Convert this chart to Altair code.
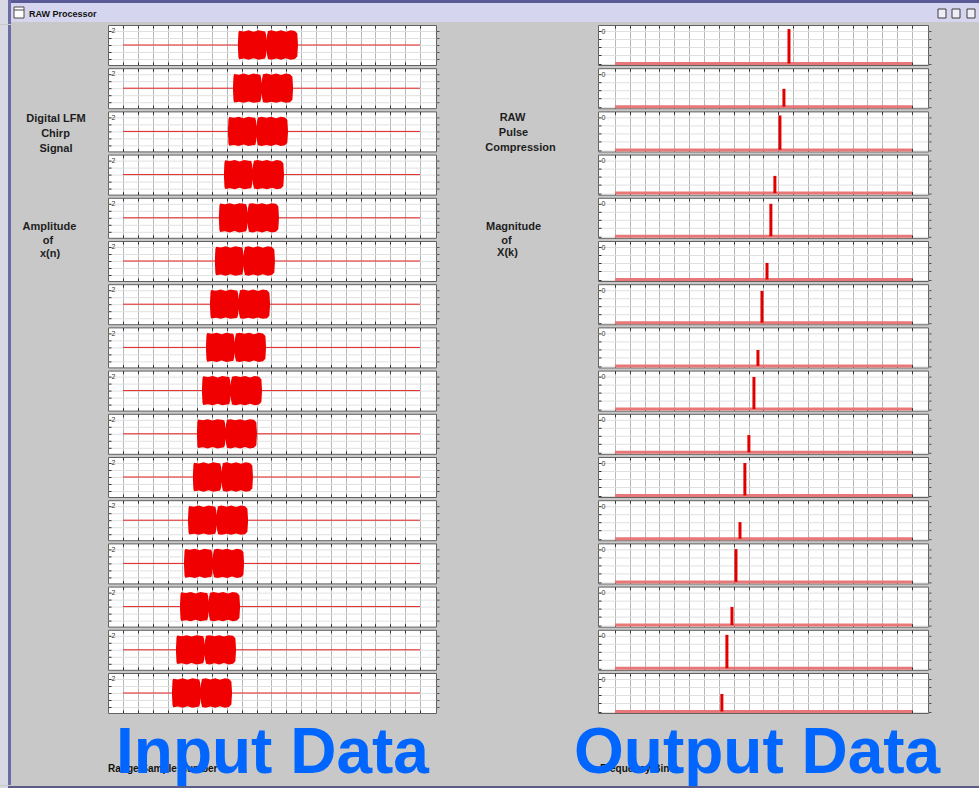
import altair as alt
import pandas as pd

# ---------------- data ----------------
record_len = 2000                      # range samples / frequency bins per record
grid_ticks = list(range(0, 2001, 100))
amp_ticks = [-2, -1, 0, 1, 2]
mag_ticks = [0, 0.25, 0.5, 0.75, 1.0]

# start sample of the LFM chirp in each of the 16 input records
chirp_start = [774, 741, 707, 680, 646, 619, 586, 559, 532, 498, 471, 438, 411, 384, 357, 330]
chirp_len = 404
# envelope of the chirp (fraction of chirp length, amplitude)
env_rel = [0.00, 0.008, 0.02, 0.10, 0.18, 0.26, 0.34, 0.41, 0.455, 0.47, 0.478, 0.486, 0.50, 0.56, 0.64, 0.72, 0.80, 0.88, 0.95, 0.99, 1.00]
env_amp = [0.30, 1.70, 2.00, 1.90, 2.05, 1.85, 2.05, 1.95, 1.90, 1.40, 0.70, 1.40, 1.95, 2.05, 1.90, 2.05, 1.85, 2.05, 1.95, 1.60, 0.20]

# compressed pulse peak bin and magnitude in each of the 16 output records
peak_bin = [1172, 1138, 1111, 1077, 1050, 1024, 990, 963, 936, 902, 875, 842, 815, 788, 754, 720]
peak_mag = [1.06, 0.55, 1.06, 0.53, 1.00, 0.51, 0.98, 0.49, 0.99, 0.53, 1.00, 0.51, 1.01, 0.56, 1.03, 0.54]

left_lines = ["Digital LFM", "Chirp", "Signal", "Amplitude", "of", "x(n)"]
mid_lines = ["RAW", "Pulse", "Compression", "Magnitude", "of", "X(k)"]
window_title = "RAW Processor"
x_left_title = "Range Sample Number"
x_right_title = "Frequency Bin"
big_left = "Input Data"
big_right = "Output Data"

# ---------------- layout / style ----------------
FONT = "Liberation Sans"
RED = "#f00000"
GRAYBG = "#c8c8c8"
LIGHT = "#d9d9e6"
PURPLE = "#6c6ca4"
PH = 40
SP = 3.2
WL = 328
WR = 330
LABW = 96
MIDW = 133.5
OUT_X = -24
left_pos = [(45, 94), (44.5, 109), (45, 123.5), (38.5, 202), (37, 216), (39, 229)]
mid_pos = [(72.5, 93), (73.5, 108), (80.5, 123), (73.5, 202), (66.5, 215.5), (67.5, 228)]

xs_left = alt.Scale(domain=[-101, 2108], nice=False, zero=False)
xs_right = alt.Scale(domain=[-114, 2108], nice=False, zero=False)
ys_amp = alt.Scale(domain=[-2.8, 2.8], nice=False, zero=False)
ys_mag = alt.Scale(domain=[-0.046, 1.185], nice=False, zero=False)


def x_axis(orient):
    return alt.Axis(orient=orient, values=grid_ticks, grid=(orient == "bottom"),
                    gridColor="#b8b8b8", gridWidth=1, tickSize=3, offset=-3,
                    tickColor="#333333", domain=False, labels=False, title=None)


def y_axis_left(ticks, top_val, top_txt):
    return alt.Axis(orient="left", values=ticks, grid=True, gridColor="#e0e0e0",
                    tickSize=3, offset=-3, tickColor="#333333", domain=False,
                    labelExpr=f"datum.value == {top_val} ? '{top_txt}' : ''",
                    labelAlign="left", labelPadding=-3, labelFontSize=7,
                    labelColor="#333333", labelFont=FONT, title=None)


def y_axis_right(ticks):
    return alt.Axis(orient="right", values=ticks, grid=False, tickSize=3,
                    tickColor="#555555", domain=False, labels=False, title=None)


panel_view = alt.ViewBackground(fill="white", stroke="#626262", strokeWidth=1)


def blank(w, h, fill):
    return alt.Chart(pd.DataFrame({"a": [0]})).mark_rect(color=fill, strokeWidth=0).encode(
        x=alt.value(0), x2=alt.value(w), y=alt.value(0), y2=alt.value(h)
    ).properties(width=w, height=h)


def left_panel(i):
    base = pd.DataFrame({"x": [0, record_len], "y": [0, 0]})
    env = pd.DataFrame({
        "x": [chirp_start[i] + r * chirp_len for r in env_rel],
        "lo": [-a for a in env_amp],
        "hi": env_amp,
    })
    l1 = alt.Chart(base).mark_line(color="#e02020", strokeWidth=1).encode(
        x=alt.X("x:Q", scale=xs_left, axis=x_axis("bottom")),
        y=alt.Y("y:Q", scale=ys_amp, axis=y_axis_left(amp_ticks, 2, "2")),
    )
    l2 = alt.Chart(env).mark_area(color=RED, opacity=1).encode(
        x=alt.X("x:Q", scale=xs_left, axis=x_axis("top")),
        y=alt.Y("lo:Q", scale=ys_amp, axis=y_axis_right(amp_ticks)),
        y2="hi:Q",
    )
    return alt.layer(l1, l2).resolve_axis(x="independent", y="independent").properties(
        width=WL, height=PH, view=panel_view)


def right_panel(i):
    base = pd.DataFrame({"x": [0], "x1": [record_len], "y": [0]})
    pk = pd.DataFrame({"x": [peak_bin[i]], "lo": [0], "hi": [peak_mag[i]]})
    l1 = alt.Chart(base).mark_rule(color="#e87878", strokeWidth=3).encode(
        x=alt.X("x:Q", scale=xs_right, axis=x_axis("bottom")),
        x2="x1:Q",
        y=alt.Y("y:Q", scale=ys_mag, axis=y_axis_left(mag_ticks, 1, "0")),
    )
    l2 = alt.Chart(pk).mark_rule(color="#e00000", strokeWidth=3).encode(
        x=alt.X("x:Q", scale=xs_right, axis=x_axis("top")),
        y=alt.Y("lo:Q", scale=ys_mag, axis=y_axis_right(mag_ticks)),
        y2="hi:Q",
    )
    return alt.layer(l1, l2).resolve_axis(x="independent", y="independent").properties(
        width=WR, height=PH, view=panel_view)


def label_chart(lines, pos, w, h):
    df = pd.DataFrame({"t": lines, "px": [p[0] for p in pos], "py": [p[1] for p in pos]})
    return alt.Chart(df).mark_text(align="center", baseline="middle", font=FONT,
                                   fontWeight="bold", fontSize=11, color="#1e1e1e").encode(
        text="t:N",
        x=alt.X("px:Q", scale=None, axis=None),
        y=alt.Y("py:Q", scale=None, axis=None),
    ).properties(width=w, height=h)


BOTTOM_H = 60


def bottom_chart(small, big, w, small_x, big_x):
    d = pd.DataFrame({"s": [small], "b": [big]})
    s = alt.Chart(d).mark_text(align="left", baseline="middle", font=FONT, fontWeight="bold",
                               fontSize=10, color="#111111").encode(
        text="s:N", x=alt.value(small_x), y=alt.value(52.5))
    b = alt.Chart(d).mark_text(align="left", baseline="alphabetic", font=FONT, fontWeight="bold",
                               fontSize=64, color="#0066ff").encode(
        text="b:N", x=alt.value(big_x), y=alt.value(56.5))
    return alt.layer(s, b).properties(width=w, height=BOTTOM_H)


left_col = alt.vconcat(*[left_panel(i) for i in range(16)],
                       bottom_chart(x_left_title, big_left, WL, 0, 8),
                       spacing=SP, bounds="flush")
right_col = alt.vconcat(*[right_panel(i) for i in range(16)],
                        bottom_chart(x_right_title, big_right, WR, 2, OUT_X),
                        spacing=SP, bounds="flush")

BODY_H = 760
body = alt.hconcat(
    blank(8, BODY_H, LIGHT), blank(3, BODY_H, PURPLE),
    label_chart(left_lines, left_pos, LABW, BODY_H),
    left_col,
    label_chart(mid_lines, mid_pos, MIDW, BODY_H),
    right_col,
    spacing=0)

# window title bar
one = pd.DataFrame({"a": [0], "t": [window_title]})
tb_w = 968
tb_fill = alt.Chart(one).mark_rect(color="#d5d5ef").encode(
    x=alt.value(0), x2=alt.value(tb_w), y=alt.value(0), y2=alt.value(22))
tb_border = alt.Chart(one).mark_rect(color="#5a5a96").encode(
    x=alt.value(0), x2=alt.value(tb_w), y=alt.value(0), y2=alt.value(3))
tb_icon = alt.Chart(one).mark_rect(fill="white", stroke="#4a4a4a", strokeWidth=1).encode(
    x=alt.value(3), x2=alt.value(13), y=alt.value(7), y2=alt.value(18))
tb_icon_bar = alt.Chart(one).mark_rule(color="#4a4a4a", strokeWidth=1).encode(
    x=alt.value(3), x2=alt.value(13), y=alt.value(10))
tb_text = alt.Chart(one).mark_text(align="left", baseline="middle", font=FONT, fontWeight="bold",
                                   fontSize=9, color="#111111").encode(
    text="t:N", x=alt.value(18), y=alt.value(13.5))
btn_df = pd.DataFrame({"x0": [927, 941, 956], "x1": [935, 949, 964]})
tb_btns = alt.Chart(btn_df).mark_rect(fill="#eeeef8", stroke="#3c3c3c", strokeWidth=1).encode(
    x=alt.X("x0:Q", scale=None, axis=None), x2="x1:Q", y=alt.value(9), y2=alt.value(18))
title_bar = alt.layer(tb_fill, tb_border, tb_icon, tb_icon_bar, tb_text, tb_btns).properties(
    width=tb_w, height=24)
title_row = alt.hconcat(blank(8, 24, LIGHT), blank(3, 24, PURPLE), title_bar,
                        spacing=0, bounds="flush")

bottom_row = alt.hconcat(blank(8, 3, LIGHT), blank(971, 3, "#5c5c88"), spacing=0, bounds="flush")

chart = alt.vconcat(title_row, body, bottom_row, spacing=0).properties(
    background=GRAYBG, padding=0
).configure(font=FONT).configure_view(strokeWidth=0, stroke="transparent")

chart.save("out.html", embed_options={"renderer": "svg", "actions": False})
